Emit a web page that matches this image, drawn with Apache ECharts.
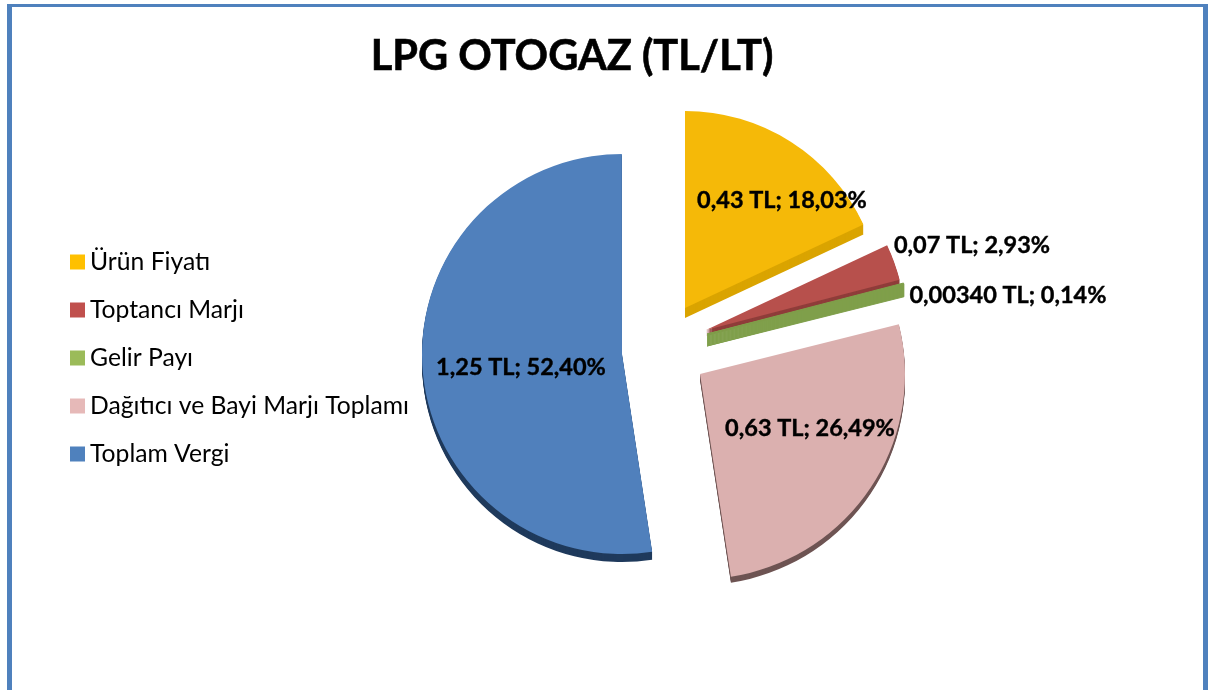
<!DOCTYPE html>
<html>
<head>
<meta charset="utf-8">
<title>LPG OTOGAZ</title>
<script src="https://cdn.jsdelivr.net/npm/echarts@6/dist/echarts.min.js"></script>
<style>
  html, body { margin: 0; padding: 0; background: #fff; overflow: hidden; }
  #main { width: 1210px; height: 690px; }
</style>
</head>
<body>
<div id="main"></div>
<script>
// veriler
const names = ['Ürün Fiyatı', 'Toptancı Marjı', 'Gelir Payı', 'Dağıtıcı ve Bayi Marjı Toplamı', 'Toplam Vergi']
const amountLabels = ['0,43', '0,07', '0,00340', '0,63', '1,25']
const percents = [18.03, 2.93, 0.14, 26.49, 52.4]

// renkler ve patlatılmış dilim yerleşimi
const topColors = ['#F5B908', '#B7504C', '#7F9F4A', '#DBB0AF', '#5080BC']
const legendColors = ['#FFC000', '#C0504D', '#9BBB59', '#E6B9B8', '#4F81BD']
const sideColors = ['#DAA400', '#8F3D3A', '#7F9F4A', '#6E5453', '#1F3A5C']
const centers = [[685, 308], [706, 330], [707, 334], [700, 374], [622, 354]]
const radii = [197, 200, 203, 205, 200]
const depths = [10, 6, 12, 6, 8]
const sideBorders = [0, 0, 1, 0, 0]
const labelPos = [[782, 200], [972, 245], [1008, 295], [810, 428], [521, 367]]

const myChart = echarts.init(document.getElementById('main'))

const series = []
let used = 0
percents.forEach((p, i) => {
  const startAngle = 90 - used * 3.6
  used += p
  const rest = { value: 100 - p, name: '', itemStyle: { color: 'rgba(0,0,0,0)', borderWidth: 0 }, label: { show: false } }
  // yan yüzey: aşağı kaydırılmış koyu kopyalar
  for (let d = depths[i]; d > 0; d--) {
    series.push({
      type: 'pie',
      silent: true,
      radius: radii[i],
      center: [centers[i][0], centers[i][1] + d],
      startAngle,
      label: { show: false },
      labelLine: { show: false },
      data: [
        { value: p, name: '', itemStyle: { color: sideColors[i], borderColor: sideColors[i], borderWidth: sideBorders[i] } },
        rest
      ]
    })
  }
  series.push({
    type: 'pie',
    silent: true,
    radius: radii[i],
    center: centers[i],
    startAngle,
    avoidLabelOverlap: false,
    labelLine: { show: false },
    labelLayout: { x: labelPos[i][0], y: labelPos[i][1], align: 'center', verticalAlign: 'middle' },
    data: [
      {
        value: p,
        name: names[i],
        itemStyle: { color: topColors[i], borderColor: topColors[i], borderWidth: sideBorders[i] },
        label: {
          show: true,
          position: 'inside',
          formatter: amountLabels[i] + ' TL; ' + p.toFixed(2).replace('.', ',') + '%',
          color: '#000',
          fontFamily: 'Lato',
          fontWeight: 'bold',
          fontSize: 23.5,
          textBorderColor: '#000',
          textBorderWidth: 0.4
        }
      },
      rest
    ]
  })
})

const frameColor = '#4F81BD'

const option = {
  animation: false,
  backgroundColor: '#fff',
  title: {
    text: 'LPG OTOGAZ (TL/LT)',
    left: 567,
    top: 31,
    textAlign: 'center',
    textStyle: { fontFamily: 'Lato', fontWeight: 'bold', fontSize: 41.5, color: '#000', textBorderColor: '#000', textBorderWidth: 0.6 }
  },
  legend: {
    orient: 'vertical',
    left: 65,
    top: 244,
    data: names.map((name, i) => ({ name, itemStyle: { color: legendColors[i], borderWidth: 0 } })),
    icon: 'rect',
    itemWidth: 15,
    itemHeight: 15,
    itemGap: 22,
    textStyle: { fontFamily: 'Lato', fontSize: 24.7, lineHeight: 26, color: '#000', padding: [0, 0, 0, 0] }
  },
  graphic: [
    { type: 'rect', silent: true, shape: { x: 7, y: 4, width: 5, height: 686 }, style: { fill: frameColor } },
    { type: 'rect', silent: true, shape: { x: 1203, y: 4, width: 5, height: 686 }, style: { fill: frameColor } },
    { type: 'rect', silent: true, shape: { x: 7, y: 4, width: 1201, height: 3 }, style: { fill: frameColor } }
  ],
  series
}

myChart.setOption(option)
</script>
</body>
</html>
